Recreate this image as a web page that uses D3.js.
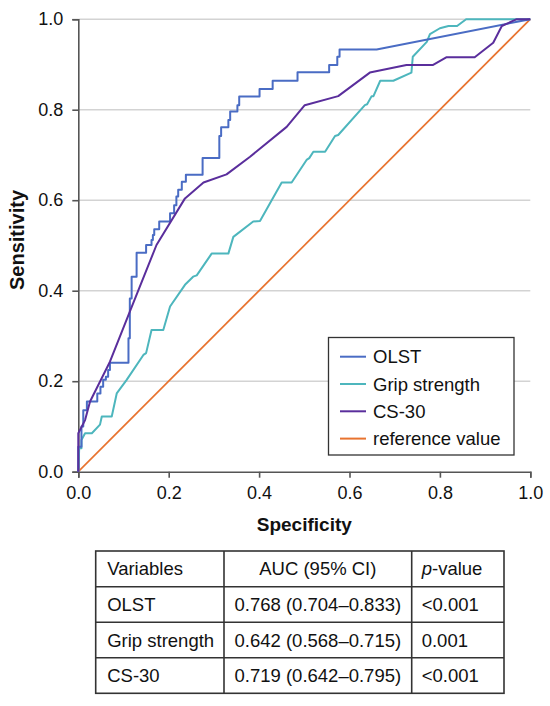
<!DOCTYPE html>
<html><head><meta charset="utf-8">
<script src="https://cdn.jsdelivr.net/npm/d3@7"></script>
<style>body{margin:0;background:#fff}svg{display:block}text{font-family:"Liberation Sans",Arial,sans-serif;fill:#111}</style>
</head><body><div id="chart"></div>
<script>
// ---- data ----
const xTicks = [0, 0.2, 0.4, 0.6, 0.8, 1.0];
const yTicks = [0, 0.2, 0.4, 0.6, 0.8, 1.0];
const seriesNames = ["OLST", "Grip strength", "CS-30", "reference value"];
const seriesColors = ["#4a6cc4", "#4db6bd", "#5a2e9c", "#e8732f"];

// OLST: step curve (x where it rises, y after rise) then a straight tail
const olstStepX = [0,0.007,0.011,0.019,0.042,0.049,0.055,0.061,0.066,0.070,0.111,0.114,0.118,0.129,0.150,0.162,0.165,0.168,0.179,0.203,0.212,0.217,0.221,0.229,0.238,0.275,0.312,0.316,0.332,0.336,0.352,0.356,0.401,0.430,0.485,0.555,0.573,0.578];
const olstStepY = [0.055,0.100,0.136,0.155,0.173,0.188,0.203,0.210,0.225,0.241,0.295,0.383,0.431,0.484,0.501,0.512,0.523,0.536,0.553,0.571,0.589,0.608,0.623,0.641,0.656,0.693,0.742,0.761,0.777,0.796,0.810,0.829,0.846,0.864,0.883,0.899,0.917,0.933];
const olstTailX = [0.660, 1.0];
const olstTailY = [0.933, 1.0];

const gripX = [0,0.002,0.007,0.007,0.015,0.030,0.048,0.052,0.074,0.085,0.107,0.144,0.150,0.162,0.188,0.203,0.236,0.254,0.262,0.295,0.332,0.343,0.387,0.402,0.450,0.472,0.505,0.511,0.520,0.546,0.568,0.575,0.634,0.639,0.649,0.653,0.668,0.697,0.737,0.740,0.771,0.778,0.800,0.819,0.838,0.858,1.0];
const gripY = [0,0.052,0.052,0.070,0.085,0.085,0.104,0.122,0.122,0.173,0.203,0.258,0.262,0.313,0.313,0.365,0.413,0.431,0.434,0.482,0.482,0.519,0.553,0.554,0.639,0.639,0.689,0.693,0.707,0.707,0.742,0.744,0.810,0.812,0.830,0.830,0.864,0.864,0.882,0.917,0.950,0.967,0.980,0.985,0.985,1.0,1.0];

const cs30X = [0,0,0.015,0.026,0.070,0.114,0.173,0.236,0.277,0.328,0.380,0.461,0.501,0.575,0.645,0.726,0.785,0.815,0.877,0.918,0.937,0.970,1.0];
const cs30Y = [0,0.085,0.114,0.155,0.243,0.354,0.501,0.604,0.639,0.657,0.696,0.762,0.810,0.830,0.882,0.899,0.899,0.916,0.916,0.948,0.985,1.0,1.0];

const refX = [0, 1];
const refY = [0, 1];

const tableHeader = ["Variables", "AUC (95% CI)", "p-value"];
const tableVars = ["OLST", "Grip strength", "CS-30"];
const tableAUC = ["0.768 (0.704\u20130.833)", "0.642 (0.568\u20130.715)", "0.719 (0.642\u20130.795)"];
const tableP = ["<0.001", "0.001", "<0.001"];

// ---- drawing ----
const W = 550, H = 706;
const svg = d3.select("#chart").append("svg").attr("width", W).attr("height", H);
const x = d3.scaleLinear().domain([0, 1]).range([78.3, 530.3]);
const y = d3.scaleLinear().domain([0, 1]).range([471.7, 19.2]);

// gridlines
svg.append("g").selectAll("line").data(yTicks.filter(d => d > 0)).join("line")
  .attr("x1", x(0)).attr("x2", x(1)).attr("y1", d => y(d)).attr("y2", d => y(d))
  .attr("stroke", "#d3d3d3").attr("stroke-width", 1.4);

// axes
const xAxis = svg.append("g").attr("transform", `translate(0,${y(0)})`)
  .call(d3.axisBottom(x).tickValues(xTicks).tickFormat(d3.format(".1f")).tickSize(6).tickPadding(9));
const yAxis = svg.append("g").attr("transform", `translate(${x(0)},0)`)
  .call(d3.axisLeft(y).tickValues(yTicks).tickFormat(d3.format(".1f")).tickSize(6).tickPadding(9));
[xAxis, yAxis].forEach(g => {
  g.select(".domain").attr("stroke", "#555").attr("stroke-width", 1.6);
  g.selectAll(".tick line").attr("stroke", "#555").attr("stroke-width", 1.6);
  g.selectAll(".tick text").attr("font-size", 18).attr("fill", "#111")
    .attr("font-family", "'Liberation Sans', Arial, sans-serif");
});

svg.append("text").attr("x", (x(0) + x(1)) / 2).attr("y", 531).attr("text-anchor", "middle")
  .attr("font-size", 19).attr("font-weight", "bold").text("Specificity");
svg.append("text").attr("transform", `translate(24,240) rotate(-90)`)
  .attr("text-anchor", "middle").attr("font-size", 20).attr("font-weight", "bold").text("Sensitivity");

// build OLST vertices from steps
const olstPts = [[0, 0]];
olstStepX.forEach((sx, i) => {
  const prevY = i === 0 ? 0 : olstStepY[i - 1];
  olstPts.push([sx, prevY]);
  olstPts.push([sx, olstStepY[i]]);
});
olstTailX.forEach((tx, i) => olstPts.push([tx, olstTailY[i]]));

const line = d3.line().x(d => x(d[0])).y(d => y(d[1]));
const zip = (a, b) => a.map((v, i) => [v, b[i]]);

const curves = [
  { pts: zip(refX, refY), color: seriesColors[3], w: 1.7 },
  { pts: zip(gripX, gripY), color: seriesColors[1], w: 2 },
  { pts: olstPts, color: seriesColors[0], w: 2 },
  { pts: zip(cs30X, cs30Y), color: seriesColors[2], w: 2 }
];
svg.append("g").selectAll("path").data(curves).join("path")
  .attr("d", d => line(d.pts)).attr("fill", "none")
  .attr("stroke", d => d.color).attr("stroke-width", d => d.w).attr("stroke-linejoin", "round");

// legend
const lg = svg.append("g");
lg.append("rect").attr("x", 328.5).attr("y", 337.5).attr("width", 185.5).attr("height", 117.5)
  .attr("fill", "#fff").attr("stroke", "#333").attr("stroke-width", 1.3);
seriesNames.forEach((n, i) => {
  const cy = 356.7 + i * 27.3;
  lg.append("line").attr("x1", 340).attr("x2", 366).attr("y1", cy).attr("y2", cy)
    .attr("stroke", seriesColors[i]).attr("stroke-width", 2);
  lg.append("text").attr("x", 373).attr("y", cy + 6.5).attr("font-size", 18.5).text(n);
});

// table
const colX = [95.7, 224, 411.7, 504];
const rowY = [551, 586.7, 622.3, 657.7, 693.3];
const tg = svg.append("g");
tg.append("rect").attr("x", colX[0]).attr("y", rowY[0]).attr("width", colX[3] - colX[0])
  .attr("height", rowY[4] - rowY[0]).attr("fill", "none").attr("stroke", "#333").attr("stroke-width", 1.6);
rowY.slice(1, 4).forEach(ry => tg.append("line").attr("x1", colX[0]).attr("x2", colX[3])
  .attr("y1", ry).attr("y2", ry).attr("stroke", "#333").attr("stroke-width", 1.6));
colX.slice(1, 3).forEach(cx => tg.append("line").attr("x1", cx).attr("x2", cx)
  .attr("y1", rowY[0]).attr("y2", rowY[4]).attr("stroke", "#333").attr("stroke-width", 1.6));

const rows = [tableHeader].concat(tableVars.map((v, i) => [v, tableAUC[i], tableP[i]]));
rows.forEach((r, ri) => {
  const by = (rowY[ri] + rowY[ri + 1]) / 2 + 6.5;
  tg.append("text").attr("x", colX[0] + 11.5).attr("y", by).attr("font-size", 18.5).text(r[0]);
  tg.append("text").attr("x", (colX[1] + colX[2]) / 2).attr("y", by).attr("text-anchor", "middle")
    .attr("font-size", 18.5).text(r[1]);
  const t = tg.append("text").attr("x", colX[2] + 10).attr("y", by).attr("font-size", 18.5);
  if (ri === 0) {
    t.append("tspan").attr("font-style", "italic").text(r[2].slice(0, 1));
    t.append("tspan").text(r[2].slice(1));
  } else t.text(r[2]);
});
</script></body></html>
